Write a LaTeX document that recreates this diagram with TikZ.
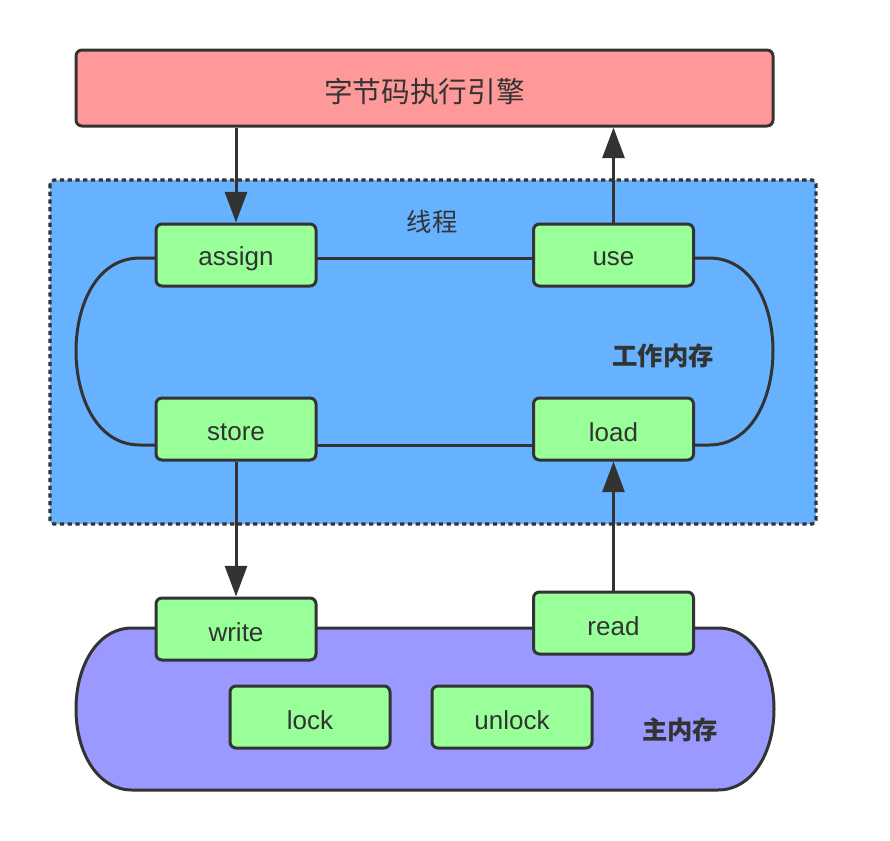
\documentclass[tikz,border=0pt]{standalone}
\usepackage{fontspec}
\setmainfont{Liberation Sans}
\newfontfamily\cjk{Noto Sans CJK SC}
\usetikzlibrary{arrows.meta}
\definecolor{linec}{HTML}{333333}
\definecolor{engred}{HTML}{FF9999}
\definecolor{thrblue}{HTML}{66B2FF}
\definecolor{opgreen}{HTML}{99FF99}
\definecolor{mempurple}{HTML}{9999FF}
\begin{document}
\begin{tikzpicture}[x=0.75pt,y=-0.75pt,
  opbox/.style={draw=linec, fill=opgreen, line width=2.25pt, rounded corners=4.5pt,
    minimum width=120pt, minimum height=46.5pt, inner sep=0pt,
    font=\fontsize{19.5}{22}\selectfont, text=linec},
  optext/.style={text=linec, inner sep=0pt, font=\fontsize{19.5}{22}\selectfont},
  conn/.style={draw=linec, line width=2.25pt},
  arr/.style={draw=linec, line width=2.25pt, -{Triangle[length=23pt,width=16.5pt]}},
  lbl/.style={text=linec, inner sep=0pt}
]
\useasboundingbox (0,0) rectangle (890,840);

% engine
\node[draw=linec, fill=engred, line width=2.25pt, rounded corners=4.5pt,
  minimum width=522.75pt, minimum height=57pt, inner sep=0pt] (engine) at (424.5,88) {};
\node[lbl, font=\cjk\fontsize{21.5}{26}\selectfont] (enginetext) at (424.5,92) {字节码执行引擎};

% thread area
\draw[fill=thrblue, draw=linec, line width=2.4pt, dash pattern=on 3.2pt off 2.6pt, rounded corners=3pt]
  (50,180) rectangle (816,524);
\node[lbl, font=\cjk\fontsize{19}{22}\selectfont] (thread) at (432,222) {线程};
\node[lbl, font=\cjk\bfseries\fontsize{19}{22}\selectfont] (wm) at (663,356) {工作内存};

% main memory area
\draw[fill=mempurple, draw=linec, line width=2.25pt]
  (132,628) -- (718,628)
  .. controls (752,628) and (774,665) .. (774,709)
  .. controls (774,753) and (752,790) .. (718,790)
  -- (132,790)
  .. controls (98,790) and (76,753) .. (76,709)
  .. controls (76,665) and (98,628) .. (132,628) -- cycle;
\node[lbl, font=\cjk\bfseries\fontsize{19}{22}\selectfont] (mm) at (680,730) {主内存};

% working memory loop
\coordinate (aw) at (156,258);
\coordinate (ue) at (693,258);
\coordinate (sw) at (156,445);
\coordinate (le) at (693,445);
\draw[conn] (aw) -- (ue);
\draw[conn] (sw) -- (le);
\draw[conn] (aw) -- (140,258) .. controls (96,258) and (76,306) .. (76,351)
  .. controls (76,396) and (96,445) .. (140,445) -- (sw);
\draw[conn] (ue) -- (709,258) .. controls (753,258) and (773,306) .. (773,351)
  .. controls (773,396) and (753,445) .. (709,445) -- (le);

% operations
\node[opbox] (assign) at (236,255) {};
\node[opbox] (use) at (613.5,255) {};
\node[opbox] (store) at (236,429) {};
\node[opbox] (load) at (613.5,429) {};
\node[opbox] (write) at (236,629) {};
\node[opbox] (read) at (613.5,623) {};
\node[opbox] (lock) at (310,717) {};
\node[opbox] (unlock) at (512,717) {};
\node[optext] at ([yshift=-2.5pt]assign) {assign};
\node[optext] at ([yshift=-2.5pt]use) {use};
\node[optext] at ([yshift=-2.5pt]store) {store};
\node[optext] at ([yshift=-2.5pt]load) {load};
\node[optext] at ([yshift=-2.5pt]write) {write};
\node[optext] at ([yshift=-2.5pt]read) {read};
\node[optext] at ([yshift=-2.5pt]lock) {lock};
\node[optext] at ([yshift=-2.5pt]unlock) {unlock};

% arrows
\draw[arr] (engine.south -| assign) -- (assign.north);
\draw[arr] (use.north) -- (use.north |- engine.south);
\draw[arr] (store.south) -- (write.north);
\draw[arr] (read.north) -- (load.south);
\end{tikzpicture}
\end{document}
